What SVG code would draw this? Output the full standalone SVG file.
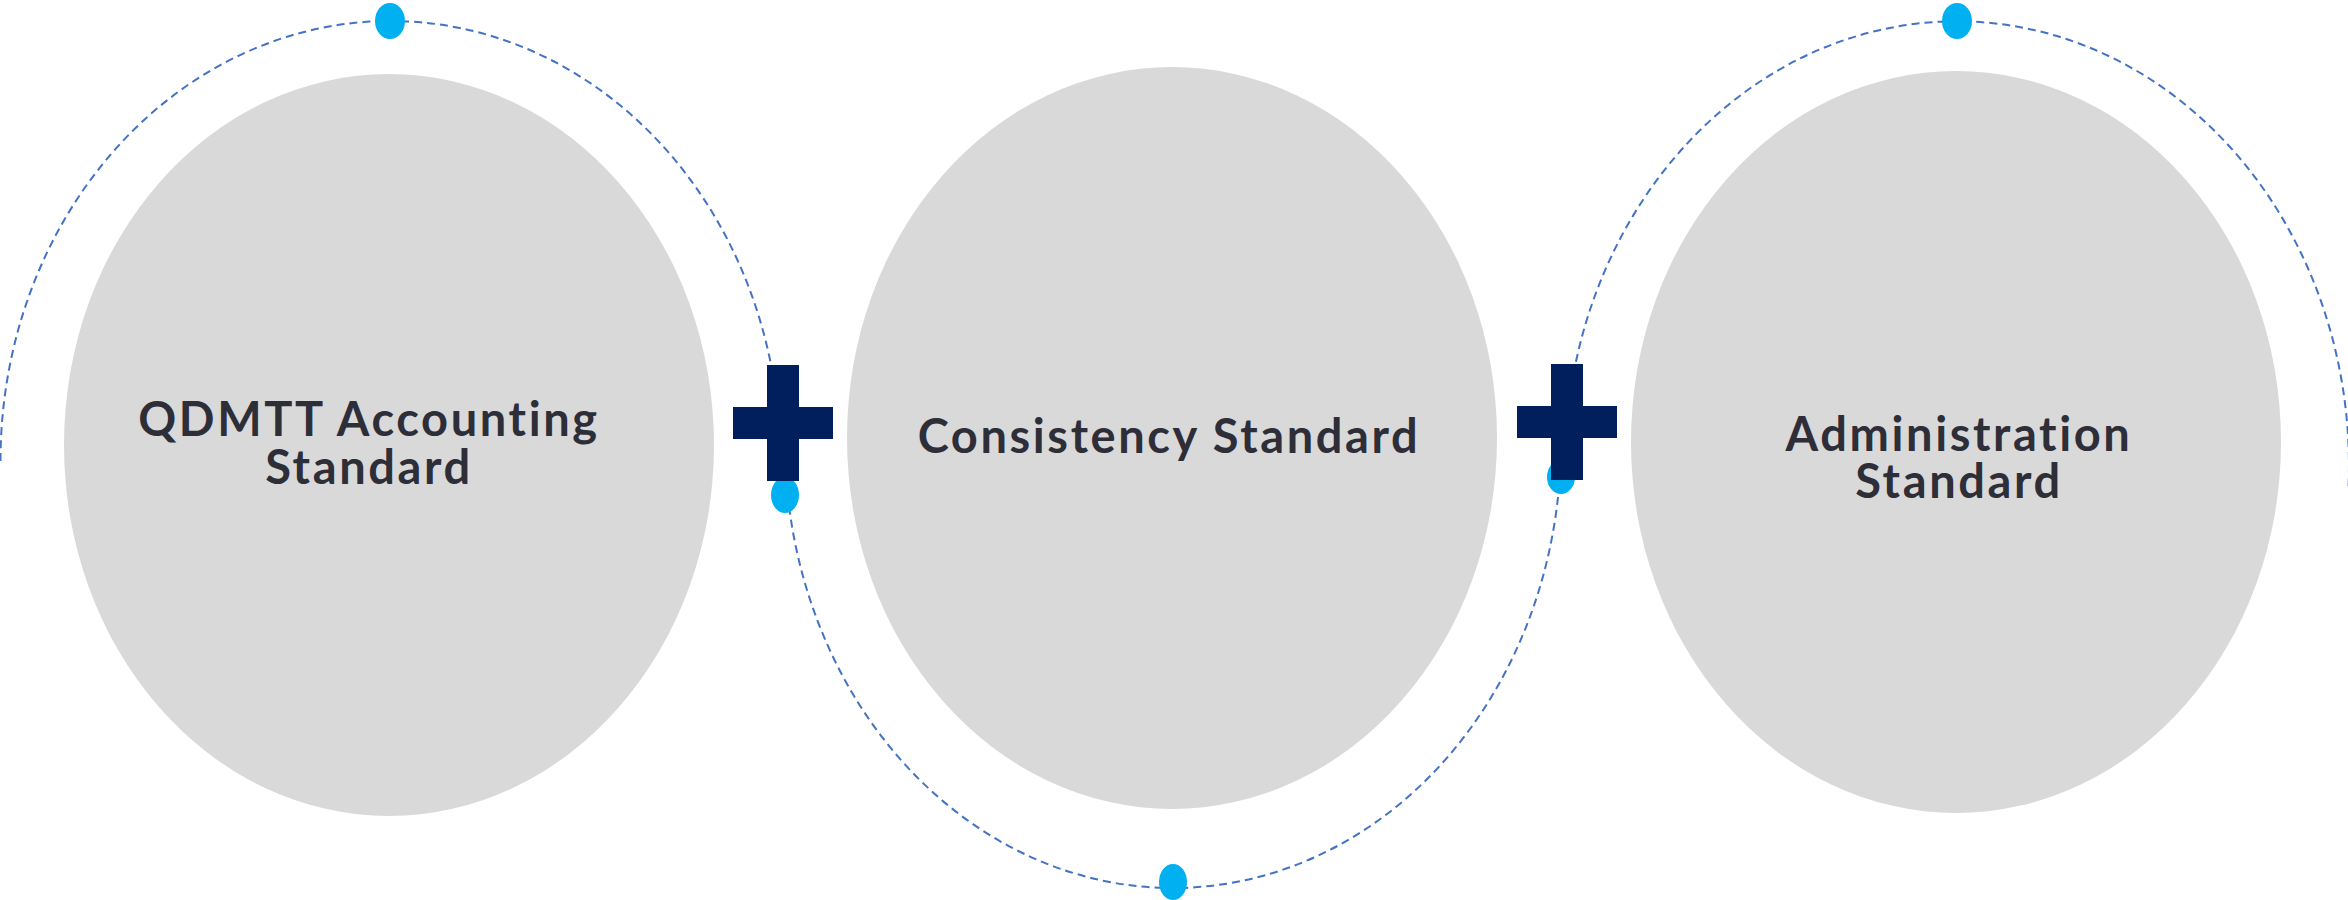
<svg xmlns="http://www.w3.org/2000/svg" width="2348" height="900" viewBox="0 0 2348 900">
  <style>
    .orbit { fill: none; stroke: #4472C4; stroke-width: 2; stroke-dasharray: 8 5; }
    .pillar { fill: #D9D9D9; }
    .dot { fill: #00B0F0; }
    .plus { fill: #001F5C; }
    .label { font-family: "Lato", "Liberation Sans", sans-serif; font-weight: 700; font-size: 47px; letter-spacing: 2.6px; font-variant-ligatures: none; fill: #2E2E38; text-anchor: middle; }
  </style>
  <defs>
    <g id="plus-sign">
      <rect x="-50" y="-16" width="100" height="32"/>
      <rect x="-16" y="-58" width="32" height="116"/>
    </g>
  </defs>

  <!-- dashed wave running through all three pillars -->
  <g id="connectors">
    <path class="orbit" d="M 0.5,461 A 390,440 0 0 1 780.5,461 L 784,478"/>
    <path class="orbit" d="M 785,442 A 388,446 0 0 0 1561,442"/>
    <path class="orbit" d="M 1565.1,478 A 392,445 0 1 1 2348.5,488"/>
  </g>

  <!-- pillar 1 -->
  <g id="node-qdmtt">
    <ellipse class="pillar" cx="389" cy="445" rx="325" ry="371"/>
    <text class="label" x="369" y="436">QDMTT Accounting</text>
    <text class="label" x="369" y="484">Standard</text>
  </g>

  <!-- pillar 2 -->
  <g id="node-consistency">
    <ellipse class="pillar" cx="1172" cy="438" rx="325" ry="371"/>
    <text class="label" x="1169" y="453">Consistency Standard</text>
  </g>

  <!-- pillar 3 -->
  <g id="node-administration">
    <ellipse class="pillar" cx="1956" cy="442" rx="325" ry="371"/>
    <text class="label" x="1959" y="451">Administration</text>
    <text class="label" x="1959" y="498">Standard</text>
  </g>

  <!-- markers on the wave -->
  <g id="dots">
    <ellipse class="dot" cx="390" cy="21" rx="15" ry="18"/>
    <ellipse class="dot" cx="785" cy="495" rx="14" ry="18"/>
    <ellipse class="dot" cx="1173" cy="882" rx="14" ry="18"/>
    <ellipse class="dot" cx="1561" cy="477" rx="14" ry="17"/>
    <ellipse class="dot" cx="1957" cy="21" rx="15" ry="18"/>
  </g>

  <!-- plus signs between pillars -->
  <g id="plus-1" class="plus">
    <use href="#plus-sign" x="783" y="423"/>
  </g>
  <g id="plus-2" class="plus">
    <use href="#plus-sign" x="1567" y="422"/>
  </g>
</svg>
